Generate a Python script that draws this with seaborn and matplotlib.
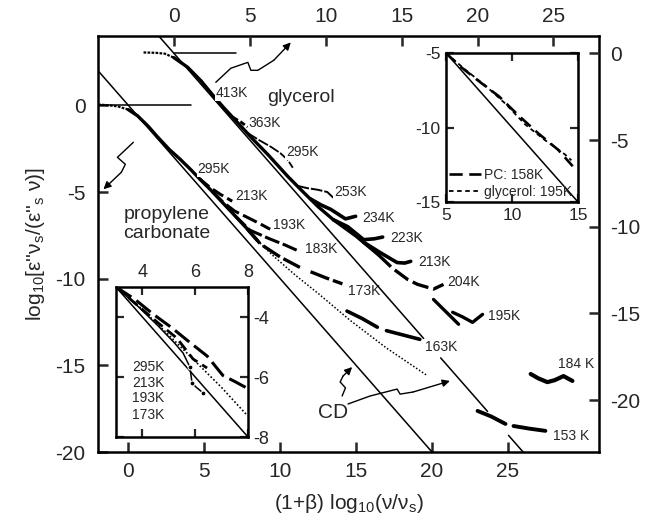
import numpy as np
import matplotlib
matplotlib.use("Agg")
import matplotlib.pyplot as plt
import seaborn as sns

sns.set_style("ticks")
plt.rcParams['font.family'] = ['Liberation Sans', 'DejaVu Sans']
plt.rcParams['mathtext.fontset'] = 'custom'
plt.rcParams['mathtext.rm'] = 'Liberation Sans'
plt.rcParams['mathtext.it'] = 'Liberation Sans:italic'
plt.rcParams['mathtext.default'] = 'regular'
plt.rcParams['axes.unicode_minus'] = False
plt.rcParams['axes.linewidth'] = 1.8
plt.rcParams['axes.edgecolor'] = 'black'

nan = np.nan

# ---- propylene carbonate (bottom / left axes) ----
pc_master_x = [-2.0, -1.3, -0.7, 0.0, 0.6, 1.3, 1.9, 2.7, 3.4, 4.1, 4.7, 5.5, 6.3, 7.0, 7.8, 8.5]
pc_master_y = [0.05, 0.0, -0.06, -0.25, -0.6, -1.2, -1.8, -2.55, -3.1, -3.7, -4.25, -4.95, -5.7, -6.35, -7.1, -7.8]
pc_213_x = [4.7, 5.4, 6.05, 6.84]
pc_213_y = [-4.25, -4.75, -5.13, -5.53]
pc_193_x = [5.5, 6.25, 7.0, 7.83, 8.6, 9.34]
pc_193_y = [-4.95, -5.6, -6.1, -6.46, -6.8, -7.15]
pc_183_x = [7.0, 8.0, 9.3, 10.3, 11.2]
pc_183_y = [-6.35, -7.2, -7.7, -8.05, -8.4]
pc_173_x = [7.8, 8.7, 10.0, 11.3, nan, 12.0, 13.0, 14.1]
pc_173_y = [-7.1, -8.0, -8.75, -9.35, nan, -9.6, -9.95, -10.3]
pc_163_x = [14.4, 15.4, 16.4, nan, 17.0, 18.1, 19.2]
pc_163_y = [-11.87, -12.3, -12.8, nan, -13.0, -13.25, -13.5]
pc_158_x = [8.5, 9.5, 11.0, 12.5, 14.6, 17.0, 19.7]
pc_158_y = [-7.8, -8.65, -9.8, -10.85, -12.4, -14.0, -15.6]
pc_cd_x = [-2.0, 20.0]
pc_cd_y = [2.0, -20.0]
pc_flat_x = [-2.0, 4.1]
pc_flat_y = [0.0, 0.0]
pc_labels = ['295K', '213K', '193K', '183K', '173K', '163K']
pc_label_x = [4.54, 7.04, 9.54, 11.64, 14.47, 19.54]
pc_label_y = [-3.69, -5.24, -6.92, -8.3, -10.72, -13.95]

# ---- glycerol (top / right axes) ----
gly_master_x = [-2.0, -1.2, -0.6, 0.0, 0.9, 1.8, 2.6, 3.3, 4.2, 5.2, 6.2, 7.5, 8.4, 9.5, 10.5, 12.0, 13.5]
gly_master_y = [0.05, 0.03, -0.02, -0.25, -0.8, -1.6, -2.45, -3.15, -4.0, -4.95, -5.85, -7.1, -7.9, -8.85, -9.6, -10.55, -11.65]
gly_363_x = [3.9, 4.4, 4.85]
gly_363_y = [-3.7, -3.95, -4.25]
gly_295_x = [4.87, 5.6, 6.4, 7.0, 7.5, 7.83]
gly_295_y = [-4.6, -5.0, -5.4, -5.75, -6.15, -6.6]
gly_253_x = [7.5, 8.16, 8.8, 9.47, 10.1, 10.5]
gly_253_y = [-7.1, -7.65, -7.78, -7.87, -8.0, -8.33]
gly_234_x = [9.0, 9.7, 10.33, 11.3, 11.97]
gly_234_y = [-8.4, -8.75, -9.0, -9.55, -9.4]
gly_223_x = [10.5, 11.45, 12.5, 13.2, 13.75]
gly_223_y = [-9.6, -10.0, -10.75, -10.7, -10.6]
gly_213_x = [12.5, 13.6, 14.7, 15.2, 15.6]
gly_213_y = [-10.9, -11.5, -12.07, -12.1, -12.0]
gly_204_x = [13.5, 14.4, 15.4, 16.05, 17.1, 17.76]
gly_204_y = [-11.65, -12.4, -13.05, -13.33, -13.6, -13.33]
gly_195_x = [17.1, 18.75, nan, 18.36, 19.0, 19.67, 20.33]
gly_195_y = [-14.2, -15.63, nan, -14.94, -15.2, -15.52, -15.06]
gly_184_x = [23.5, 24.0, 24.6, 25.1, 25.66, 26.25]
gly_184_y = [-18.5, -18.75, -18.97, -18.85, -18.62, -18.9]
gly_153_x = [20.0, 20.9, 21.84, nan, 22.37, 23.4, 24.47]
gly_153_y = [-20.63, -20.95, -21.38, nan, -21.5, -21.65, -21.78]
gly_cd_x = [-1.0, 16.45, nan, 17.57, 20.66, nan, 22.04, 23.0]
gly_cd_y = [1.0, -16.45, nan, -17.57, -20.66, nan, -22.04, -23.0]
gly_flat_x = [0.0, 4.1]
gly_flat_y = [0.0, 0.0]
gly_labels = ['413K', '363K', '295K', '253K', '234K', '223K', '213K', '204K', '195K', '184 K', '153 K']
gly_label_x = [2.76, 4.93, 7.37, 10.53, 12.43, 14.28, 16.12, 18.03, 20.72, 25.33, 25.0]
gly_label_y = [-2.3, -4.02, -5.69, -7.99, -9.48, -10.63, -12.01, -13.22, -15.17, -17.93, -22.07]

# ---- upper-right inset ----
ins2_cd_x = [5.0, 15.0]
ins2_cd_y = [-5.0, -15.0]
ins2_pc_x = [5.0, 6.0, 7.5, 9.0, 10.5, 12.0, 13.5, 14.6]
ins2_pc_y = [-5.0, -5.85, -6.9, -7.9, -9.2, -10.4, -11.5, -12.6]
ins2_gly_x = [5.0, 6.5, 8.0, 9.5, 11.0, 12.5, 14.0, 14.5]
ins2_gly_y = [-5.0, -6.15, -7.2, -8.4, -9.8, -10.85, -11.8, -12.2]

# ---- lower-left inset (PC close-up) ----
ins1_cd_x = [3.0, 8.0]
ins1_cd_y = [-3.0, -8.0]
ins1_295_x = [3.0, 3.8, 4.6, 5.2, 5.54, 5.8, 5.88, 6.05, 6.3]
ins1_295_y = [-3.0, -3.62, -4.3, -4.85, -5.2, -5.67, -6.2, -6.35, -6.53]
ins1_213_x = [3.0, 3.7, 4.4, 5.1, 5.8, 6.45, 7.05, 7.5, 7.96]
ins1_213_y = [-3.0, -3.4, -3.9, -4.35, -4.85, -5.3, -5.95, -6.15, -6.37]
ins1_193_x = [3.0, 3.8, 4.6, 5.3, 5.92, 6.45]
ins1_193_y = [-3.0, -3.6, -4.2, -4.7, -5.4, -5.7]
ins1_173_x = [3.0, 3.9, 5.0, 5.8, 7.0, 7.96]
ins1_173_y = [-3.0, -3.67, -4.6, -5.3, -6.35, -7.27]
ins1_labels = ['295K', '213K', '193K', '173K']
ins1_label_y = [-5.67, -6.2, -6.7, -7.27]


def trace(axis, xs, ys, **kw):
    """Draw a curve with seaborn, breaking it wherever a NaN appears."""
    xs = np.asarray(xs, float)
    ys = np.asarray(ys, float)
    cuts = np.where(np.isnan(xs))[0]
    for sx, sy in zip(np.split(xs, cuts), np.split(ys, cuts)):
        ok = ~np.isnan(sx)
        if ok.sum() < 2:
            continue
        kw.setdefault('color', 'black')
        sns.lineplot(x=sx[ok], y=sy[ok], ax=axis, sort=False, estimator=None,
                     legend=False, **kw)


def master(axis, xs, ys):
    """Low-frequency plateau as a fine dotted trace, the rest as a heavy line."""
    trace(axis, xs[:4], ys[:4], lw=1.6, linestyle=(0, (1.2, 0.6)))
    trace(axis, xs[3:], ys[3:], lw=2.4)


def squiggle(axis, px, py, lw=1.0):
    axis.plot(px[:-1], py[:-1], color='black', lw=lw, solid_capstyle='round')
    axis.annotate('', xy=(px[-1], py[-1]), xytext=(px[-2], py[-2]),
                  arrowprops=dict(arrowstyle='-|>', color='black', lw=lw,
                                  mutation_scale=11, shrinkA=0, shrinkB=0))


fig = plt.figure(figsize=(6.55, 5.2), dpi=100)
ax = fig.add_axes([98 / 655, 1 - 452 / 520, 501 / 655, 416 / 520])
ax2 = fig.add_axes(ax.get_position(), frameon=False)

ax.set_xlim(-2, 31)
ax.set_ylim(-20, 4)
ax2.set_xlim(-5, 28)
ax2.set_ylim(-23, 1)

# main tick setup
ax.set_xticks([0, 5, 10, 15, 20, 25])
ax.set_yticks([-20, -15, -10, -5, 0])
ax.xaxis.set_ticks_position('bottom')
ax.yaxis.set_ticks_position('left')
ax.tick_params(axis='x', direction='in', length=7, width=1.8, labelsize=15, pad=7)
ax.tick_params(axis='y', direction='in', length=7, width=1.8, labelsize=15, pad=9)
ax2.set_xticks([0, 5, 10, 15, 20, 25])
ax2.set_yticks([-20, -15, -10, -5, 0])
ax2.xaxis.set_ticks_position('top')
ax2.yaxis.set_ticks_position('right')
ax2.tick_params(axis='x', direction='in', length=7, width=1.8, labelsize=15, pad=7,
                top=True, bottom=False, labeltop=True, labelbottom=False)
ax2.tick_params(axis='y', direction='in', length=7, width=1.8, labelsize=15, pad=8,
                right=True, left=False, labelright=True, labelleft=False)
ax2.set_xlabel('')
ax2.set_ylabel('')

# PC curves
trace(ax, pc_cd_x, pc_cd_y, lw=1.1)
trace(ax, pc_flat_x, pc_flat_y, lw=1.1)
master(ax, pc_master_x, pc_master_y)
trace(ax, pc_213_x, pc_213_y, lw=2.2, linestyle=(0, (4, 1.5)))
trace(ax, pc_193_x, pc_193_y, lw=2.2, linestyle=(0, (5, 1.5)))
trace(ax, pc_183_x, pc_183_y, lw=2.2, linestyle=(0, (5, 1.2)))
trace(ax, pc_173_x, pc_173_y, lw=2.4, linestyle=(0, (6, 1.2)))
trace(ax, pc_163_x, pc_163_y, lw=2.6)
trace(ax, pc_158_x, pc_158_y, lw=1.1, linestyle=(0, (1, 1.3)))
for t, x, y in zip(pc_labels, pc_label_x, pc_label_y):
    ax.text(x, y, t, fontsize=10, ha='left', va='center',
            bbox=dict(boxstyle='square,pad=0.05', fc='white', ec='none'), zorder=5)

# glycerol curves
trace(ax2, gly_cd_x, gly_cd_y, lw=1.1)
trace(ax2, gly_flat_x, gly_flat_y, lw=1.1)
master(ax2, gly_master_x, gly_master_y)
trace(ax2, gly_363_x, gly_363_y, lw=2.0, linestyle=(0, (2, 1)))
trace(ax2, gly_295_x, gly_295_y, lw=1.3, linestyle=(0, (6, 1)))
trace(ax2, gly_253_x, gly_253_y, lw=1.4, linestyle=(0, (6, 1)))
trace(ax2, gly_234_x, gly_234_y, lw=2.6)
trace(ax2, gly_223_x, gly_223_y, lw=2.6)
trace(ax2, gly_213_x, gly_213_y, lw=2.6)
trace(ax2, gly_204_x, gly_204_y, lw=2.4, linestyle=(0, (5, 1.5)))
trace(ax2, gly_195_x, gly_195_y, lw=2.4)
trace(ax2, gly_184_x, gly_184_y, lw=3.0)
trace(ax2, gly_153_x, gly_153_y, lw=2.8)
for t, x, y in zip(gly_labels, gly_label_x, gly_label_y):
    ax2.text(x, y, t, fontsize=10, ha='left', va='center',
             bbox=dict(boxstyle='square,pad=0.05', fc='white', ec='none'), zorder=5)

# names and pointer arrows
ax.text(9.14, 0.46, 'glycerol', fontsize=14, ha='left', va='center')
ax.text(-0.33, -6.86, 'propylene\ncarbonate', fontsize=14, ha='left', va='center',
        linespacing=1.15)
squiggle(ax2, [2.76, 3.75, 4.87, 5.07, 5.53, 6.58, 7.7],
         [-1.67, -0.86, -0.52, -0.98, -0.98, -0.40, 0.63])
squiggle(ax, [0.33, -0.72, -0.2, -0.46, -1.64], [-2.13, -3.0, -3.4, -3.86, -4.84])
ax.text(12.5, -17.7, 'CD', fontsize=15, ha='left', va='center')
squiggle(ax, [14.08, 14.3, 13.95, 14.14, 14.74], [-16.77, -16.3, -15.96, -15.62, -15.1])
squiggle(ax, [14.47, 15.92, 17.7, 17.9, 18.75, 21.18], [-17.23, -16.77, -16.37, -16.66, -16.54, -15.9])

ax.set_xlabel(r'(1+β) log$_{10}$(ν/ν$_s$)', fontsize=15, labelpad=8)
ax.set_ylabel(r"log$_{10}$[ε''ν$_s$/(ε''$_s$ ν)]", fontsize=15, labelpad=6)

# upper-right inset
ax3 = fig.add_axes([446 / 655, 1 - 202 / 520, 132 / 655, 149 / 520])
ax3.set_facecolor('white')
ax3.set_xlim(5, 15)
ax3.set_ylim(-15, -5)
trace(ax3, ins2_cd_x, ins2_cd_y, lw=1.1)
trace(ax3, ins2_pc_x, ins2_pc_y, lw=1.9, linestyle=(0, (5, 2.5)))
trace(ax3, ins2_gly_x, ins2_gly_y, lw=1.3, linestyle=(0, (2.5, 2)))
ax3.set_xticks([5, 10, 15])
ax3.set_yticks([-15, -10, -5])
ax3.tick_params(direction='in', length=6, width=1.6, labelsize=12.5, pad=4,
                top=True, right=True)
ax3.set_xlabel('')
ax3.set_ylabel('')
h = ax3.get_lines()
ax3.legend(h[1:3], ['PC: 158K', 'glycerol: 195K'], loc='lower left', frameon=False,
           fontsize=10, handlelength=2.3, handletextpad=0.2, borderaxespad=0.1,
           labelspacing=0.25, borderpad=0.1)

# lower-left inset
ax4 = fig.add_axes([116 / 655, 1 - 437 / 520, 132 / 655, 150 / 520])
ax4.set_facecolor('white')
ax4.set_xlim(3, 8)
ax4.set_ylim(-8, -3)
trace(ax4, ins1_cd_x, ins1_cd_y, lw=1.1)
trace(ax4, ins1_173_x, ins1_173_y, lw=1.2, linestyle=(0, (1, 1.3)))
trace(ax4, ins1_193_x, ins1_193_y, lw=2.0, linestyle=(0, (4, 2)))
trace(ax4, ins1_213_x, ins1_213_y, lw=2.2, linestyle=(0, (6, 2)))
trace(ax4, ins1_295_x, ins1_295_y, lw=1.1, marker='o', markersize=3.5,
      markevery=[5, 6, 8])
for t, y in zip(ins1_labels, ins1_label_y):
    ax4.text(3.6, y, t, fontsize=10, ha='left', va='center')
ax4.set_xticks([4, 6, 8])
ax4.set_yticks([-8, -6, -4])
ax4.tick_params(direction='in', length=6, width=1.6, labelsize=13, pad=4,
                top=True, right=True, bottom=True, left=True,
                labeltop=True, labelbottom=False, labelright=True, labelleft=False)
ax4.set_xlabel('')
ax4.set_ylabel('')

fig.savefig('out.png', dpi=100)
